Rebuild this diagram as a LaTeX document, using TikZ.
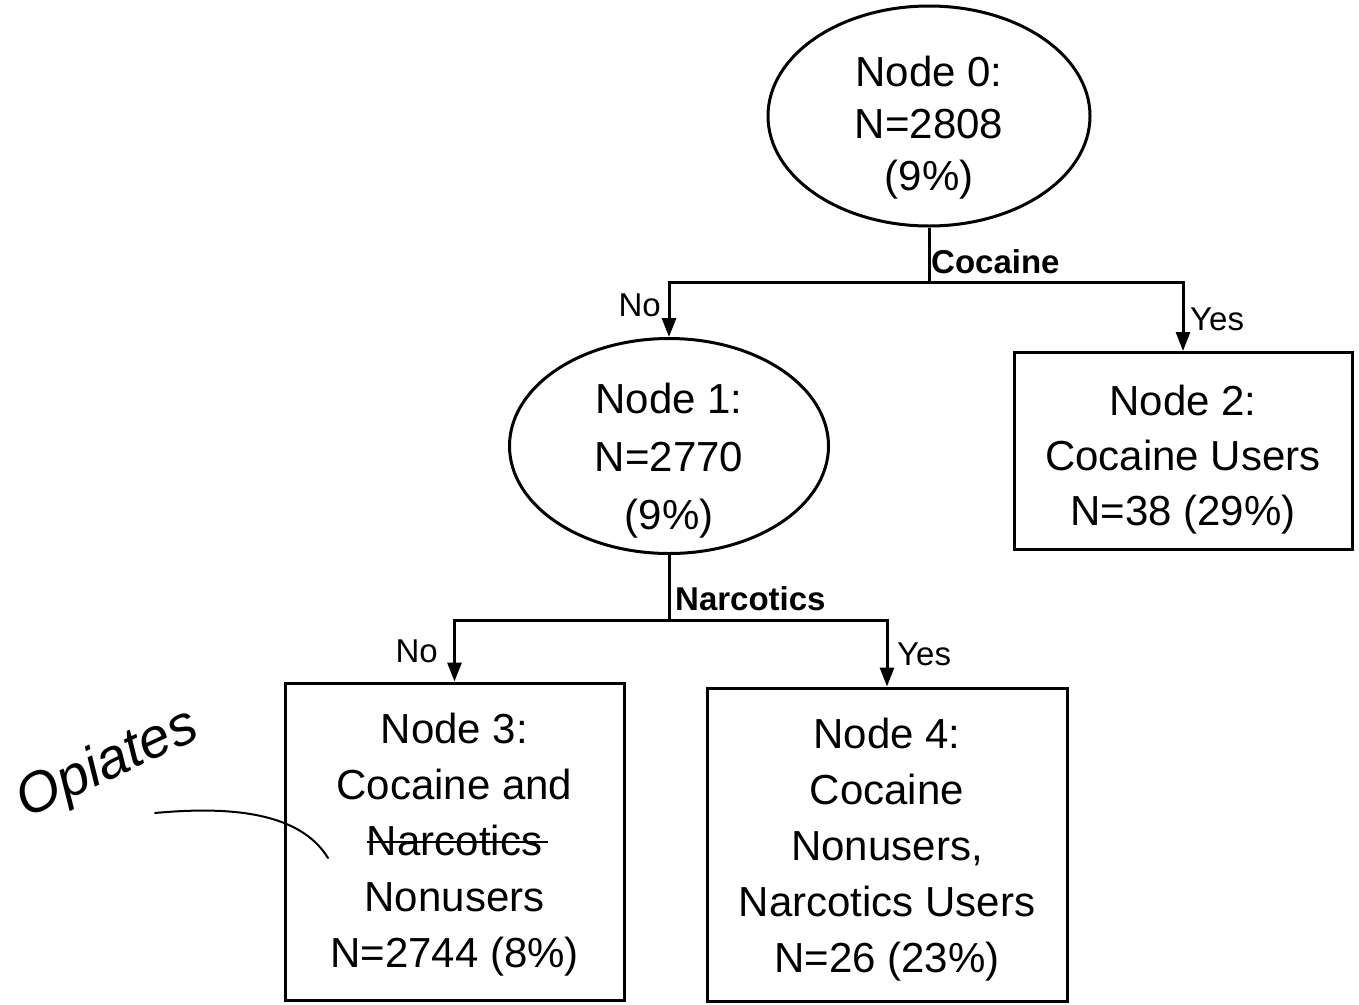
\documentclass[tikz,border=0pt]{standalone}
\usepackage{fontspec}
\setmainfont{Liberation Sans}
\usetikzlibrary{shapes.geometric,arrows.meta}
\newcommand\strk[1]{\setbox0\hbox{#1}\rlap{\rule[0.3em]{\dimexpr\wd0+6pt\relax}{2.2pt}}\box0}
\tikzset{
  every node/.style={inner sep=0pt},
  shapenode/.style={draw,line width=3pt},
  ellnode/.style={shapenode,ellipse},
  boxnode/.style={shapenode,rectangle},
  txt/.style={align=center,font=\fontsize{42pt}{55pt}\selectfont},
  conn/.style={line width=3pt},
  arr/.style={conn,-{Triangle[width=14pt,length=19pt]}},
  splitlab/.style={font=\fontsize{33pt}{38pt}\selectfont\bfseries},
  branchlab/.style={font=\fontsize{33pt}{38pt}\selectfont},
  hand/.style={font=\fontsize{56pt}{60pt}\selectfont\itshape}
}
\begin{document}
\begin{tikzpicture}[x=1pt,y=-1pt]
\useasboundingbox (0,0) rectangle (1359,1004);
% shapes
\node[ellnode,minimum width=322pt,minimum height=220pt] (n0) at (929,116) {};
\node[ellnode,minimum width=319pt,minimum height=215pt] (n1) at (669,446) {};
\node[boxnode,minimum width=338pt,minimum height=197pt] (n2) at (1183,451) {};
\node[boxnode,minimum width=339pt,minimum height=317pt] (n3) at (454.5,841.5) {};
\node[boxnode,minimum width=360pt,minimum height=313pt] (n4) at (887,844.5) {};
% texts
\node[txt,font=\fontsize{42pt}{52pt}\selectfont] (t0) at ([yshift=-12pt]n0.center) {Node 0:\\N=2808\\(9\%)};
\node[txt,font=\fontsize{42pt}{58pt}\selectfont] (t1) at ([yshift=-15pt]n1.center) {Node 1:\\N=2770\\(9\%)};
\node[txt] (t2) at ([yshift=-9pt]n2.center) {Node 2:\\Cocaine Users\\N=38 (29\%)};
\node[txt,font=\fontsize{42pt}{56pt}\selectfont] (t3) at ([yshift=-3pt]n3.center) {Node 3:\\Cocaine and\\\strk{Narcotics}\\Nonusers\\N=2744 (8\%)};
\node[txt,font=\fontsize{42pt}{56pt}\selectfont] (t4) at ([yshift=-5pt]n4.center) {Node 4:\\Cocaine\\Nonusers,\\Narcotics Users\\N=26 (23\%)};
% split points
\coordinate (s0) at (n0.south |- 0,282);
\coordinate (s1) at (n1.south |- 0,620);
\draw[conn] (n0.south) -- (s0);
\draw[arr] (s0) -| (n1.north);
\draw[arr] (s0) -| (n2.north);
\draw[conn] (n1.south) -- (s1);
\draw[arr] (s1) -| (n3.north);
\draw[arr] (s1) -| (n4.north);
% labels
\node[splitlab,anchor=base west] (l0) at (931,273) {Cocaine};
\node[branchlab,anchor=base east] (l0n) at (661,316) {No};
\node[branchlab,anchor=base west] (l0y) at (1190,330) {Yes};
\node[splitlab,anchor=base west] (l1) at (675,610) {Narcotics};
\node[branchlab,anchor=base east] (l1n) at (438,662) {No};
\node[branchlab,anchor=base west] (l1y) at (897,665) {Yes};
% handwritten annotation
\node[hand,rotate=25] (op) at (108,765) {Opiates};
\draw[line width=2pt,line cap=round] (155,813) .. controls (230,806) and (300,812) .. (328,858);
\end{tikzpicture}
\end{document}
